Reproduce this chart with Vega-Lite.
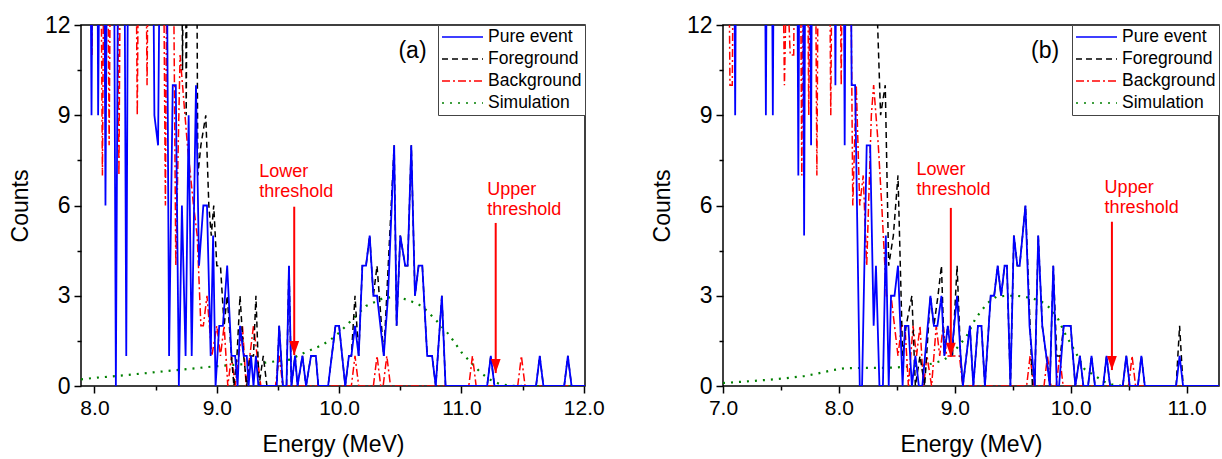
{
"$schema": "https://vega.github.io/schema/vega-lite/v6.json",
"padding": {"left": 8, "top": 13, "right": 2, "bottom": 2},
"config": {
  "font": "Liberation Sans",
  "view": {"stroke": "#000", "strokeWidth": 1.5},
  "axis": {"labelFontSize": 21, "titleFontSize": 23, "titleFontWeight": "normal", "labelColor": "#000", "titleColor": "#000", "tickColor": "#000", "domain": false, "grid": false, "tickWidth": 1.5, "labelFont": "Liberation Sans", "titleFont": "Liberation Sans"},
  "legend": {"title": null, "orient": "top-right", "offset": 0, "padding": 3, "strokeColor": "#444", "fillColor": "#fff", "labelFontSize": 17.5, "labelColor": "#000", "symbolType": "stroke", "symbolSize": 1681, "symbolStrokeWidth": 1.5, "clipHeight": 18, "rowPadding": 4, "labelOffset": 4, "cornerRadius": 0},
  "concat": {"spacing": 45}
},
"resolve": {"legend": {"color": "independent", "strokeDash": "independent"}},
"datasets": {
"a": [
{"s":"Pure event","x":7.89,"y":20},{"s":"Pure event","x":7.96,"y":20},{"s":"Pure event","x":7.976,"y":9},{"s":"Pure event","x":7.99,"y":20},{"s":"Pure event","x":8.02,"y":20},{"s":"Pure event","x":8.03,"y":9},{"s":"Pure event","x":8.05,"y":20},{"s":"Pure event","x":8.075,"y":20},{"s":"Pure event","x":8.09,"y":6},{"s":"Pure event","x":8.11,"y":20},{"s":"Pure event","x":8.155,"y":20},{"s":"Pure event","x":8.175,"y":0},{"s":"Pure event","x":8.2,"y":20},{"s":"Pure event","x":8.24,"y":20},{"s":"Pure event","x":8.26,"y":1},{"s":"Pure event","x":8.28,"y":20},{"s":"Pure event","x":8.47,"y":20},{"s":"Pure event","x":8.49,"y":9},{"s":"Pure event","x":8.52,"y":8},{"s":"Pure event","x":8.545,"y":20},{"s":"Pure event","x":8.585,"y":20},{"s":"Pure event","x":8.61,"y":1},{"s":"Pure event","x":8.64,"y":10},{"s":"Pure event","x":8.665,"y":10},{"s":"Pure event","x":8.69,"y":0},{"s":"Pure event","x":8.715,"y":6},{"s":"Pure event","x":8.745,"y":1},{"s":"Pure event","x":8.77,"y":9},{"s":"Pure event","x":8.795,"y":1},{"s":"Pure event","x":8.83,"y":10},{"s":"Pure event","x":8.855,"y":4},{"s":"Pure event","x":8.89,"y":6},{"s":"Pure event","x":8.92,"y":6},{"s":"Pure event","x":8.95,"y":1},{"s":"Pure event","x":8.97,"y":5},{"s":"Pure event","x":8.99,"y":0},{"s":"Pure event","x":9.02,"y":2},{"s":"Pure event","x":9.05,"y":2},{"s":"Pure event","x":9.085,"y":4},{"s":"Pure event","x":9.12,"y":1},{"s":"Pure event","x":9.15,"y":1},{"s":"Pure event","x":9.17,"y":0},{"s":"Pure event","x":9.19,"y":2},{"s":"Pure event","x":9.22,"y":1},{"s":"Pure event","x":9.245,"y":1},{"s":"Pure event","x":9.26,"y":0},{"s":"Pure event","x":9.28,"y":1},{"s":"Pure event","x":9.3,"y":0},{"s":"Pure event","x":9.32,"y":1},{"s":"Pure event","x":9.34,"y":0},{"s":"Pure event","x":9.49,"y":0},{"s":"Pure event","x":9.51,"y":2},{"s":"Pure event","x":9.54,"y":0},{"s":"Pure event","x":9.57,"y":0},{"s":"Pure event","x":9.59,"y":4},{"s":"Pure event","x":9.61,"y":0},{"s":"Pure event","x":9.64,"y":1},{"s":"Pure event","x":9.66,"y":0},{"s":"Pure event","x":9.7,"y":1},{"s":"Pure event","x":9.73,"y":0},{"s":"Pure event","x":9.77,"y":1},{"s":"Pure event","x":9.81,"y":1},{"s":"Pure event","x":9.83,"y":0},{"s":"Pure event","x":9.91,"y":0},{"s":"Pure event","x":9.94,"y":1},{"s":"Pure event","x":9.97,"y":2},{"s":"Pure event","x":10.0,"y":2},{"s":"Pure event","x":10.05,"y":0},{"s":"Pure event","x":10.08,"y":1},{"s":"Pure event","x":10.1,"y":1},{"s":"Pure event","x":10.13,"y":2},{"s":"Pure event","x":10.16,"y":1},{"s":"Pure event","x":10.19,"y":4},{"s":"Pure event","x":10.22,"y":4},{"s":"Pure event","x":10.25,"y":5},{"s":"Pure event","x":10.28,"y":3},{"s":"Pure event","x":10.31,"y":3},{"s":"Pure event","x":10.365,"y":1},{"s":"Pure event","x":10.4,"y":3},{"s":"Pure event","x":10.45,"y":8},{"s":"Pure event","x":10.47,"y":2},{"s":"Pure event","x":10.5,"y":5},{"s":"Pure event","x":10.54,"y":4},{"s":"Pure event","x":10.56,"y":4},{"s":"Pure event","x":10.59,"y":8},{"s":"Pure event","x":10.62,"y":3},{"s":"Pure event","x":10.65,"y":4},{"s":"Pure event","x":10.68,"y":4},{"s":"Pure event","x":10.72,"y":1},{"s":"Pure event","x":10.76,"y":1},{"s":"Pure event","x":10.79,"y":0},{"s":"Pure event","x":10.84,"y":3},{"s":"Pure event","x":10.87,"y":0},{"s":"Pure event","x":11.21,"y":0},{"s":"Pure event","x":11.24,"y":1},{"s":"Pure event","x":11.27,"y":0},{"s":"Pure event","x":11.61,"y":0},{"s":"Pure event","x":11.64,"y":1},{"s":"Pure event","x":11.67,"y":0},{"s":"Pure event","x":11.84,"y":0},{"s":"Pure event","x":11.87,"y":1},{"s":"Pure event","x":11.9,"y":0},{"s":"Pure event","x":12.01,"y":0},
{"s":"Foreground","x":7.89,"y":20},{"s":"Foreground","x":8.705,"y":20},{"s":"Foreground","x":8.72,"y":10.5},{"s":"Foreground","x":8.735,"y":20},{"s":"Foreground","x":8.74,"y":20},{"s":"Foreground","x":8.75,"y":9},{"s":"Foreground","x":8.765,"y":20},{"s":"Foreground","x":8.83,"y":20},{"s":"Foreground","x":8.845,"y":7},{"s":"Foreground","x":8.87,"y":8},{"s":"Foreground","x":8.91,"y":9},{"s":"Foreground","x":8.935,"y":6},{"s":"Foreground","x":8.955,"y":5},{"s":"Foreground","x":8.975,"y":6},{"s":"Foreground","x":9.0,"y":4},{"s":"Foreground","x":9.03,"y":4},{"s":"Foreground","x":9.06,"y":2},{"s":"Foreground","x":9.085,"y":3},{"s":"Foreground","x":9.12,"y":1},{"s":"Foreground","x":9.14,"y":0},{"s":"Foreground","x":9.165,"y":1},{"s":"Foreground","x":9.19,"y":3},{"s":"Foreground","x":9.22,"y":1},{"s":"Foreground","x":9.245,"y":0},{"s":"Foreground","x":9.27,"y":1},{"s":"Foreground","x":9.3,"y":1},{"s":"Foreground","x":9.32,"y":3},{"s":"Foreground","x":9.345,"y":0},{"s":"Foreground","x":9.38,"y":1},{"s":"Foreground","x":9.41,"y":0},{"s":"Foreground","x":9.49,"y":0},{"s":"Foreground","x":9.51,"y":2},{"s":"Foreground","x":9.54,"y":0},{"s":"Foreground","x":9.57,"y":0},{"s":"Foreground","x":9.59,"y":4},{"s":"Foreground","x":9.61,"y":0},{"s":"Foreground","x":9.64,"y":1},{"s":"Foreground","x":9.66,"y":0},{"s":"Foreground","x":9.7,"y":1},{"s":"Foreground","x":9.73,"y":0},{"s":"Foreground","x":9.77,"y":1},{"s":"Foreground","x":9.81,"y":1},{"s":"Foreground","x":9.83,"y":0},{"s":"Foreground","x":9.91,"y":0},{"s":"Foreground","x":9.94,"y":1},{"s":"Foreground","x":9.97,"y":2},{"s":"Foreground","x":10.0,"y":2},{"s":"Foreground","x":10.05,"y":0},{"s":"Foreground","x":10.08,"y":1},{"s":"Foreground","x":10.1,"y":1},{"s":"Foreground","x":10.13,"y":3},{"s":"Foreground","x":10.16,"y":1},{"s":"Foreground","x":10.19,"y":4},{"s":"Foreground","x":10.22,"y":4},{"s":"Foreground","x":10.25,"y":5},{"s":"Foreground","x":10.28,"y":3},{"s":"Foreground","x":10.31,"y":4},{"s":"Foreground","x":10.365,"y":1},{"s":"Foreground","x":10.45,"y":8},{"s":"Foreground","x":10.47,"y":2},{"s":"Foreground","x":10.5,"y":5},{"s":"Foreground","x":10.54,"y":4},{"s":"Foreground","x":10.56,"y":4},{"s":"Foreground","x":10.59,"y":8},{"s":"Foreground","x":10.62,"y":3},{"s":"Foreground","x":10.65,"y":4},{"s":"Foreground","x":10.68,"y":4},{"s":"Foreground","x":10.72,"y":1},{"s":"Foreground","x":10.76,"y":1},{"s":"Foreground","x":10.79,"y":0},{"s":"Foreground","x":10.84,"y":3},{"s":"Foreground","x":10.87,"y":0},{"s":"Foreground","x":11.21,"y":0},{"s":"Foreground","x":11.24,"y":1},{"s":"Foreground","x":11.27,"y":0},{"s":"Foreground","x":11.61,"y":0},{"s":"Foreground","x":11.64,"y":1},{"s":"Foreground","x":11.67,"y":0},{"s":"Foreground","x":11.84,"y":0},{"s":"Foreground","x":11.87,"y":1},{"s":"Foreground","x":11.9,"y":0},{"s":"Foreground","x":12.01,"y":0},
{"s":"Background","x":7.89,"y":20},{"s":"Background","x":7.96,"y":20},{"s":"Background","x":7.98,"y":11},{"s":"Background","x":8.0,"y":20},{"s":"Background","x":8.045,"y":20},{"s":"Background","x":8.065,"y":7},{"s":"Background","x":8.085,"y":20},{"s":"Background","x":8.1,"y":20},{"s":"Background","x":8.12,"y":8},{"s":"Background","x":8.14,"y":20},{"s":"Background","x":8.18,"y":20},{"s":"Background","x":8.2,"y":7},{"s":"Background","x":8.22,"y":20},{"s":"Background","x":8.33,"y":20},{"s":"Background","x":8.35,"y":9},{"s":"Background","x":8.37,"y":20},{"s":"Background","x":8.41,"y":20},{"s":"Background","x":8.43,"y":10},{"s":"Background","x":8.45,"y":20},{"s":"Background","x":8.555,"y":20},{"s":"Background","x":8.58,"y":6},{"s":"Background","x":8.6,"y":20},{"s":"Background","x":8.635,"y":20},{"s":"Background","x":8.665,"y":4},{"s":"Background","x":8.7,"y":11},{"s":"Background","x":8.72,"y":10},{"s":"Background","x":8.76,"y":8},{"s":"Background","x":8.81,"y":6},{"s":"Background","x":8.84,"y":5},{"s":"Background","x":8.87,"y":2},{"s":"Background","x":8.89,"y":2},{"s":"Background","x":8.92,"y":3},{"s":"Background","x":8.96,"y":1},{"s":"Background","x":9.0,"y":2},{"s":"Background","x":9.03,"y":1},{"s":"Background","x":9.06,"y":2},{"s":"Background","x":9.09,"y":0},{"s":"Background","x":9.12,"y":1},{"s":"Background","x":9.15,"y":0},{"s":"Background","x":9.18,"y":1},{"s":"Background","x":9.21,"y":2},{"s":"Background","x":9.24,"y":0},{"s":"Background","x":9.27,"y":1},{"s":"Background","x":9.3,"y":2},{"s":"Background","x":9.33,"y":1},{"s":"Background","x":9.36,"y":0},{"s":"Background","x":9.48,"y":0},{"s":"Background","x":9.51,"y":1},{"s":"Background","x":9.54,"y":0},{"s":"Background","x":10.1,"y":0},{"s":"Background","x":10.13,"y":1},{"s":"Background","x":10.16,"y":0},{"s":"Background","x":10.28,"y":0},{"s":"Background","x":10.31,"y":1},{"s":"Background","x":10.34,"y":0},{"s":"Background","x":10.36,"y":0},{"s":"Background","x":10.39,"y":1},{"s":"Background","x":10.42,"y":0},{"s":"Background","x":11.06,"y":0},{"s":"Background","x":11.09,"y":1},{"s":"Background","x":11.12,"y":0},{"s":"Background","x":11.46,"y":0},{"s":"Background","x":11.49,"y":1},{"s":"Background","x":11.52,"y":0},{"s":"Background","x":12.01,"y":0},
{"s":"Simulation","x":7.89,"y":0.22},{"s":"Simulation","x":8.0,"y":0.27},{"s":"Simulation","x":8.2,"y":0.34},{"s":"Simulation","x":8.4,"y":0.42},{"s":"Simulation","x":8.6,"y":0.5},{"s":"Simulation","x":8.8,"y":0.58},{"s":"Simulation","x":9.0,"y":0.66},{"s":"Simulation","x":9.2,"y":0.72},{"s":"Simulation","x":9.4,"y":0.78},{"s":"Simulation","x":9.6,"y":0.88},{"s":"Simulation","x":9.7,"y":1.08},{"s":"Simulation","x":9.8,"y":1.25},{"s":"Simulation","x":9.87,"y":1.38},{"s":"Simulation","x":9.94,"y":1.57},{"s":"Simulation","x":10.0,"y":1.77},{"s":"Simulation","x":10.12,"y":2.26},{"s":"Simulation","x":10.22,"y":2.66},{"s":"Simulation","x":10.36,"y":2.92},{"s":"Simulation","x":10.47,"y":2.97},{"s":"Simulation","x":10.57,"y":2.85},{"s":"Simulation","x":10.68,"y":2.65},{"s":"Simulation","x":10.79,"y":2.2},{"s":"Simulation","x":10.9,"y":1.7},{"s":"Simulation","x":11.0,"y":1.12},{"s":"Simulation","x":11.06,"y":0.86},{"s":"Simulation","x":11.11,"y":0.64},{"s":"Simulation","x":11.17,"y":0.4},{"s":"Simulation","x":11.24,"y":0.2},{"s":"Simulation","x":11.31,"y":0.07},{"s":"Simulation","x":11.4,"y":0.01},{"s":"Simulation","x":11.5,"y":0},{"s":"Simulation","x":12.01,"y":0}
],
"b": [
{"s":"Pure event","x":7.0,"y":20},{"s":"Pure event","x":7.09,"y":20},{"s":"Pure event","x":7.105,"y":9},{"s":"Pure event","x":7.12,"y":20},{"s":"Pure event","x":7.355,"y":20},{"s":"Pure event","x":7.37,"y":9},{"s":"Pure event","x":7.385,"y":20},{"s":"Pure event","x":7.415,"y":20},{"s":"Pure event","x":7.43,"y":9},{"s":"Pure event","x":7.445,"y":20},{"s":"Pure event","x":7.635,"y":20},{"s":"Pure event","x":7.65,"y":7},{"s":"Pure event","x":7.665,"y":20},{"s":"Pure event","x":7.685,"y":20},{"s":"Pure event","x":7.70,"y":5},{"s":"Pure event","x":7.715,"y":20},{"s":"Pure event","x":7.745,"y":20},{"s":"Pure event","x":7.76,"y":8},{"s":"Pure event","x":7.775,"y":20},{"s":"Pure event","x":7.955,"y":20},{"s":"Pure event","x":7.97,"y":10},{"s":"Pure event","x":7.985,"y":20},{"s":"Pure event","x":8.035,"y":20},{"s":"Pure event","x":8.05,"y":8},{"s":"Pure event","x":8.065,"y":20},{"s":"Pure event","x":8.095,"y":20},{"s":"Pure event","x":8.11,"y":10},{"s":"Pure event","x":8.14,"y":10},{"s":"Pure event","x":8.18,"y":0},{"s":"Pure event","x":8.2,"y":0},{"s":"Pure event","x":8.24,"y":8},{"s":"Pure event","x":8.27,"y":8},{"s":"Pure event","x":8.3,"y":2},{"s":"Pure event","x":8.32,"y":4},{"s":"Pure event","x":8.35,"y":0},{"s":"Pure event","x":8.38,"y":0},{"s":"Pure event","x":8.405,"y":5},{"s":"Pure event","x":8.43,"y":0},{"s":"Pure event","x":8.45,"y":3},{"s":"Pure event","x":8.48,"y":3},{"s":"Pure event","x":8.51,"y":4},{"s":"Pure event","x":8.55,"y":0},{"s":"Pure event","x":8.57,"y":2},{"s":"Pure event","x":8.6,"y":2},{"s":"Pure event","x":8.63,"y":0},{"s":"Pure event","x":8.66,"y":1},{"s":"Pure event","x":8.69,"y":0},{"s":"Pure event","x":8.72,"y":0},{"s":"Pure event","x":8.79,"y":3},{"s":"Pure event","x":8.82,"y":2},{"s":"Pure event","x":8.85,"y":2},{"s":"Pure event","x":8.885,"y":3},{"s":"Pure event","x":8.91,"y":1},{"s":"Pure event","x":8.94,"y":2},{"s":"Pure event","x":8.97,"y":1},{"s":"Pure event","x":9.02,"y":3},{"s":"Pure event","x":9.05,"y":1},{"s":"Pure event","x":9.07,"y":0},{"s":"Pure event","x":9.1,"y":1},{"s":"Pure event","x":9.13,"y":2},{"s":"Pure event","x":9.16,"y":0},{"s":"Pure event","x":9.2,"y":2},{"s":"Pure event","x":9.23,"y":2},{"s":"Pure event","x":9.26,"y":0},{"s":"Pure event","x":9.31,"y":3},{"s":"Pure event","x":9.34,"y":3},{"s":"Pure event","x":9.37,"y":4},{"s":"Pure event","x":9.4,"y":3},{"s":"Pure event","x":9.43,"y":4},{"s":"Pure event","x":9.45,"y":4},{"s":"Pure event","x":9.48,"y":0},{"s":"Pure event","x":9.51,"y":5},{"s":"Pure event","x":9.54,"y":4},{"s":"Pure event","x":9.56,"y":4},{"s":"Pure event","x":9.61,"y":6},{"s":"Pure event","x":9.645,"y":2},{"s":"Pure event","x":9.69,"y":0},{"s":"Pure event","x":9.72,"y":5},{"s":"Pure event","x":9.755,"y":2},{"s":"Pure event","x":9.79,"y":1},{"s":"Pure event","x":9.82,"y":0},{"s":"Pure event","x":9.85,"y":4},{"s":"Pure event","x":9.88,"y":0},{"s":"Pure event","x":9.9,"y":0},{"s":"Pure event","x":9.94,"y":2},{"s":"Pure event","x":10.0,"y":2},{"s":"Pure event","x":10.04,"y":0},{"s":"Pure event","x":10.08,"y":1},{"s":"Pure event","x":10.11,"y":0},{"s":"Pure event","x":10.15,"y":0},{"s":"Pure event","x":10.18,"y":1},{"s":"Pure event","x":10.21,"y":0},{"s":"Pure event","x":10.28,"y":0},{"s":"Pure event","x":10.31,"y":1},{"s":"Pure event","x":10.34,"y":0},{"s":"Pure event","x":10.45,"y":0},{"s":"Pure event","x":10.48,"y":1},{"s":"Pure event","x":10.51,"y":0},{"s":"Pure event","x":10.58,"y":0},{"s":"Pure event","x":10.61,"y":1},{"s":"Pure event","x":10.64,"y":0},{"s":"Pure event","x":10.91,"y":0},{"s":"Pure event","x":10.94,"y":1},{"s":"Pure event","x":10.97,"y":0},{"s":"Pure event","x":11.28,"y":0},
{"s":"Foreground","x":7.0,"y":20},{"s":"Foreground","x":8.31,"y":20},{"s":"Foreground","x":8.33,"y":12.5},{"s":"Foreground","x":8.36,"y":9},{"s":"Foreground","x":8.4,"y":10},{"s":"Foreground","x":8.43,"y":4},{"s":"Foreground","x":8.47,"y":5},{"s":"Foreground","x":8.51,"y":7},{"s":"Foreground","x":8.55,"y":1},{"s":"Foreground","x":8.58,"y":2},{"s":"Foreground","x":8.63,"y":3},{"s":"Foreground","x":8.66,"y":0},{"s":"Foreground","x":8.7,"y":1},{"s":"Foreground","x":8.74,"y":0},{"s":"Foreground","x":8.79,"y":3},{"s":"Foreground","x":8.82,"y":2},{"s":"Foreground","x":8.855,"y":3},{"s":"Foreground","x":8.885,"y":4},{"s":"Foreground","x":8.91,"y":1},{"s":"Foreground","x":8.94,"y":2},{"s":"Foreground","x":8.98,"y":1},{"s":"Foreground","x":9.02,"y":4},{"s":"Foreground","x":9.05,"y":1},{"s":"Foreground","x":9.07,"y":0},{"s":"Foreground","x":9.1,"y":1},{"s":"Foreground","x":9.13,"y":2},{"s":"Foreground","x":9.16,"y":0},{"s":"Foreground","x":9.2,"y":2},{"s":"Foreground","x":9.23,"y":2},{"s":"Foreground","x":9.26,"y":0},{"s":"Foreground","x":9.31,"y":3},{"s":"Foreground","x":9.34,"y":3},{"s":"Foreground","x":9.37,"y":4},{"s":"Foreground","x":9.4,"y":3},{"s":"Foreground","x":9.43,"y":4},{"s":"Foreground","x":9.45,"y":4},{"s":"Foreground","x":9.48,"y":0},{"s":"Foreground","x":9.51,"y":5},{"s":"Foreground","x":9.54,"y":4},{"s":"Foreground","x":9.56,"y":4},{"s":"Foreground","x":9.61,"y":6},{"s":"Foreground","x":9.67,"y":0},{"s":"Foreground","x":9.69,"y":0},{"s":"Foreground","x":9.72,"y":5},{"s":"Foreground","x":9.755,"y":2},{"s":"Foreground","x":9.79,"y":1},{"s":"Foreground","x":9.82,"y":0},{"s":"Foreground","x":9.85,"y":4},{"s":"Foreground","x":9.88,"y":1},{"s":"Foreground","x":9.91,"y":1},{"s":"Foreground","x":9.94,"y":2},{"s":"Foreground","x":10.0,"y":2},{"s":"Foreground","x":10.04,"y":0},{"s":"Foreground","x":10.08,"y":1},{"s":"Foreground","x":10.11,"y":0},{"s":"Foreground","x":10.15,"y":0},{"s":"Foreground","x":10.18,"y":1},{"s":"Foreground","x":10.21,"y":0},{"s":"Foreground","x":10.28,"y":0},{"s":"Foreground","x":10.31,"y":1},{"s":"Foreground","x":10.34,"y":0},{"s":"Foreground","x":10.45,"y":0},{"s":"Foreground","x":10.48,"y":1},{"s":"Foreground","x":10.51,"y":0},{"s":"Foreground","x":10.58,"y":0},{"s":"Foreground","x":10.61,"y":1},{"s":"Foreground","x":10.64,"y":0},{"s":"Foreground","x":10.91,"y":0},{"s":"Foreground","x":10.94,"y":2},{"s":"Foreground","x":10.97,"y":0},{"s":"Foreground","x":11.28,"y":0},
{"s":"Background","x":7.0,"y":20},{"s":"Background","x":7.04,"y":20},{"s":"Background","x":7.06,"y":10},{"s":"Background","x":7.08,"y":10},{"s":"Background","x":7.1,"y":20},{"s":"Background","x":7.5,"y":20},{"s":"Background","x":7.53,"y":10},{"s":"Background","x":7.55,"y":14},{"s":"Background","x":7.58,"y":11},{"s":"Background","x":7.61,"y":11},{"s":"Background","x":7.63,"y":20},{"s":"Background","x":7.66,"y":20},{"s":"Background","x":7.68,"y":7},{"s":"Background","x":7.7,"y":20},{"s":"Background","x":7.72,"y":20},{"s":"Background","x":7.74,"y":9},{"s":"Background","x":7.76,"y":20},{"s":"Background","x":7.79,"y":20},{"s":"Background","x":7.81,"y":7},{"s":"Background","x":7.83,"y":20},{"s":"Background","x":7.91,"y":20},{"s":"Background","x":7.93,"y":9},{"s":"Background","x":7.95,"y":20},{"s":"Background","x":8.0,"y":20},{"s":"Background","x":8.02,"y":10},{"s":"Background","x":8.04,"y":20},{"s":"Background","x":8.09,"y":20},{"s":"Background","x":8.12,"y":6},{"s":"Background","x":8.15,"y":10},{"s":"Background","x":8.18,"y":6},{"s":"Background","x":8.21,"y":7},{"s":"Background","x":8.24,"y":4},{"s":"Background","x":8.28,"y":9},{"s":"Background","x":8.3,"y":10},{"s":"Background","x":8.34,"y":8},{"s":"Background","x":8.37,"y":6},{"s":"Background","x":8.41,"y":3},{"s":"Background","x":8.45,"y":3},{"s":"Background","x":8.48,"y":2},{"s":"Background","x":8.51,"y":1},{"s":"Background","x":8.54,"y":2},{"s":"Background","x":8.57,"y":2},{"s":"Background","x":8.6,"y":0},{"s":"Background","x":8.64,"y":2},{"s":"Background","x":8.67,"y":1},{"s":"Background","x":8.7,"y":2},{"s":"Background","x":8.73,"y":0},{"s":"Background","x":8.76,"y":1},{"s":"Background","x":8.8,"y":0},{"s":"Background","x":8.84,"y":2},{"s":"Background","x":8.87,"y":1},{"s":"Background","x":8.9,"y":2},{"s":"Background","x":8.93,"y":1},{"s":"Background","x":8.96,"y":1},{"s":"Background","x":9.0,"y":1},{"s":"Background","x":9.04,"y":1},{"s":"Background","x":9.07,"y":0},{"s":"Background","x":9.62,"y":0},{"s":"Background","x":9.65,"y":1},{"s":"Background","x":9.68,"y":0},{"s":"Background","x":9.77,"y":0},{"s":"Background","x":9.8,"y":1},{"s":"Background","x":9.83,"y":0},{"s":"Background","x":9.875,"y":0},{"s":"Background","x":9.905,"y":1},{"s":"Background","x":9.935,"y":0},{"s":"Background","x":10.5,"y":0},{"s":"Background","x":10.53,"y":1},{"s":"Background","x":10.56,"y":0},{"s":"Background","x":11.28,"y":0},
{"s":"Simulation","x":7.0,"y":0.1},{"s":"Simulation","x":7.2,"y":0.15},{"s":"Simulation","x":7.4,"y":0.21},{"s":"Simulation","x":7.55,"y":0.26},{"s":"Simulation","x":7.7,"y":0.33},{"s":"Simulation","x":7.8,"y":0.4},{"s":"Simulation","x":7.95,"y":0.53},{"s":"Simulation","x":8.05,"y":0.59},{"s":"Simulation","x":8.2,"y":0.6},{"s":"Simulation","x":8.4,"y":0.6},{"s":"Simulation","x":8.55,"y":0.63},{"s":"Simulation","x":8.7,"y":0.68},{"s":"Simulation","x":8.8,"y":0.74},{"s":"Simulation","x":8.9,"y":0.85},{"s":"Simulation","x":8.97,"y":1.05},{"s":"Simulation","x":9.04,"y":1.36},{"s":"Simulation","x":9.1,"y":1.64},{"s":"Simulation","x":9.18,"y":2.25},{"s":"Simulation","x":9.28,"y":2.75},{"s":"Simulation","x":9.36,"y":2.97},{"s":"Simulation","x":9.45,"y":3.0},{"s":"Simulation","x":9.53,"y":3.0},{"s":"Simulation","x":9.6,"y":2.97},{"s":"Simulation","x":9.68,"y":2.9},{"s":"Simulation","x":9.75,"y":2.8},{"s":"Simulation","x":9.82,"y":2.6},{"s":"Simulation","x":9.88,"y":2.32},{"s":"Simulation","x":9.95,"y":1.75},{"s":"Simulation","x":10.04,"y":1.14},{"s":"Simulation","x":10.12,"y":0.56},{"s":"Simulation","x":10.2,"y":0.36},{"s":"Simulation","x":10.29,"y":0.14},{"s":"Simulation","x":10.38,"y":0.02},{"s":"Simulation","x":10.5,"y":0},{"s":"Simulation","x":11.28,"y":0}
],
"arrA": [{"x":9.633,"top":5.96,"tip":1.03},{"x":11.28,"top":5.42,"tip":0.43}],
"txtA": [{"x":9.347,"y":6.95,"t":["Lower","threshold"]},{"x":11.21,"y":6.35,"t":["Upper","threshold"]}],
"labA": [{"x":10.6,"y":10.9,"t":"(a)"}],
"arrB": [{"x":8.966,"top":5.92,"tip":0.97},{"x":10.356,"top":5.46,"tip":0.53}],
"txtB": [{"x":8.67,"y":7.01,"t":["Lower","threshold"]},{"x":10.293,"y":6.4,"t":["Upper","threshold"]}],
"labB": [{"x":9.78,"y":10.9,"t":"(b)"}]
},
"hconcat": [
{
  "width": 504, "height": 361,
  "encoding": {
    "x": {"field": "x", "type": "quantitative", "scale": {"domain": [7.89, 12.01], "nice": false, "zero": false},
          "axis": {"title": "Energy (MeV)", "values": [8, 8.5, 9, 9.5, 10, 10.5, 11, 11.5, 12], "labelExpr": "datum.value % 1 === 0 ? format(datum.value, '.1f') : ''", "tickSize": {"condition": {"test": "datum.value % 1 === 0", "value": 7}, "value": 4}, "labelPadding": 4, "titlePadding": 15, "labelFlush": false, "labelOverlap": false}},
    "y": {"field": "y", "type": "quantitative", "scale": {"domain": [0, 12], "nice": false},
          "axis": {"title": "Counts", "values": [0, 1.5, 3, 4.5, 6, 7.5, 9, 10.5, 12], "labelExpr": "datum.value % 3 === 0 ? datum.value : ''", "labelFontSize": 23, "tickSize": {"condition": {"test": "datum.value % 3 === 0", "value": 7}, "value": 4}, "labelPadding": 4, "titlePadding": 12, "labelFlush": false, "labelOverlap": false}}
  },
  "layer": [
    {"data": {"name": "a"}, "transform": [{"filter": "datum.s === 'Simulation'"}], "mark": {"type": "line", "clip": true, "strokeWidth": 2.2},
     "encoding": {"color": {"field": "s", "type": "nominal", "scale": {"domain": ["Pure event", "Foreground", "Background", "Simulation"], "range": ["#0000ff", "#000000", "#ff0000", "#008000"]}, "legend": {}},
                  "strokeDash": {"field": "s", "type": "nominal", "scale": {"domain": ["Pure event", "Foreground", "Background", "Simulation"], "range": [[1, 0], [6, 4], [8, 3, 2, 3], [2, 6]]}, "legend": {}}}},
    {"data": {"name": "a"}, "transform": [{"filter": "datum.s === 'Background'"}], "mark": {"type": "line", "clip": true, "strokeWidth": 1.5},
     "encoding": {"color": {"field": "s", "type": "nominal"}, "strokeDash": {"field": "s", "type": "nominal"}}},
    {"data": {"name": "a"}, "transform": [{"filter": "datum.s === 'Foreground'"}], "mark": {"type": "line", "clip": true, "strokeWidth": 1.5},
     "encoding": {"color": {"field": "s", "type": "nominal"}, "strokeDash": {"field": "s", "type": "nominal"}}},
    {"data": {"name": "a"}, "transform": [{"filter": "datum.s === 'Pure event'"}], "mark": {"type": "line", "clip": true, "strokeWidth": 1.8},
     "encoding": {"color": {"field": "s", "type": "nominal"}, "strokeDash": {"field": "s", "type": "nominal"}}},
    {"data": {"name": "arrA"}, "mark": {"type": "rule", "color": "#ff0000", "strokeWidth": 2},
     "encoding": {"y": {"field": "top", "type": "quantitative"}, "y2": {"field": "tip"}}},
    {"data": {"name": "arrA"}, "mark": {"type": "point", "shape": "M-0.7,-2L0.7,-2L0,0Z", "filled": true, "color": "#ff0000", "opacity": 1, "size": 196},
     "encoding": {"y": {"field": "tip", "type": "quantitative"}}},
    {"data": {"name": "txtA"}, "mark": {"type": "text", "align": "left", "baseline": "alphabetic", "fontSize": 18, "color": "#ff0000", "lineHeight": 20},
     "encoding": {"text": {"field": "t"}}},
    {"data": {"name": "labA"}, "mark": {"type": "text", "align": "center", "baseline": "alphabetic", "fontSize": 23, "color": "#000"},
     "encoding": {"text": {"field": "t"}}}
  ]
},
{
  "width": 496, "height": 361,
  "encoding": {
    "x": {"field": "x", "type": "quantitative", "scale": {"domain": [7.0, 11.28], "nice": false, "zero": false},
          "axis": {"title": "Energy (MeV)", "values": [7, 7.5, 8, 8.5, 9, 9.5, 10, 10.5, 11], "labelExpr": "datum.value % 1 === 0 ? format(datum.value, '.1f') : ''", "tickSize": {"condition": {"test": "datum.value % 1 === 0", "value": 7}, "value": 4}, "labelPadding": 4, "titlePadding": 15, "labelFlush": false, "labelOverlap": false}},
    "y": {"field": "y", "type": "quantitative", "scale": {"domain": [0, 12], "nice": false},
          "axis": {"title": "Counts", "values": [0, 1.5, 3, 4.5, 6, 7.5, 9, 10.5, 12], "labelExpr": "datum.value % 3 === 0 ? datum.value : ''", "labelFontSize": 23, "tickSize": {"condition": {"test": "datum.value % 3 === 0", "value": 7}, "value": 4}, "labelPadding": 4, "titlePadding": 12, "labelFlush": false, "labelOverlap": false}}
  },
  "layer": [
    {"data": {"name": "b"}, "transform": [{"filter": "datum.s === 'Simulation'"}], "mark": {"type": "line", "clip": true, "strokeWidth": 2.2},
     "encoding": {"color": {"field": "s", "type": "nominal", "scale": {"domain": ["Pure event", "Foreground", "Background", "Simulation"], "range": ["#0000ff", "#000000", "#ff0000", "#008000"]}, "legend": {}},
                  "strokeDash": {"field": "s", "type": "nominal", "scale": {"domain": ["Pure event", "Foreground", "Background", "Simulation"], "range": [[1, 0], [6, 4], [8, 3, 2, 3], [2, 6]]}, "legend": {}}}},
    {"data": {"name": "b"}, "transform": [{"filter": "datum.s === 'Background'"}], "mark": {"type": "line", "clip": true, "strokeWidth": 1.5},
     "encoding": {"color": {"field": "s", "type": "nominal"}, "strokeDash": {"field": "s", "type": "nominal"}}},
    {"data": {"name": "b"}, "transform": [{"filter": "datum.s === 'Foreground'"}], "mark": {"type": "line", "clip": true, "strokeWidth": 1.5},
     "encoding": {"color": {"field": "s", "type": "nominal"}, "strokeDash": {"field": "s", "type": "nominal"}}},
    {"data": {"name": "b"}, "transform": [{"filter": "datum.s === 'Pure event'"}], "mark": {"type": "line", "clip": true, "strokeWidth": 1.8},
     "encoding": {"color": {"field": "s", "type": "nominal"}, "strokeDash": {"field": "s", "type": "nominal"}}},
    {"data": {"name": "arrB"}, "mark": {"type": "rule", "color": "#ff0000", "strokeWidth": 2},
     "encoding": {"y": {"field": "top", "type": "quantitative"}, "y2": {"field": "tip"}}},
    {"data": {"name": "arrB"}, "mark": {"type": "point", "shape": "M-0.7,-2L0.7,-2L0,0Z", "filled": true, "color": "#ff0000", "opacity": 1, "size": 196},
     "encoding": {"y": {"field": "tip", "type": "quantitative"}}},
    {"data": {"name": "txtB"}, "mark": {"type": "text", "align": "left", "baseline": "alphabetic", "fontSize": 18, "color": "#ff0000", "lineHeight": 20},
     "encoding": {"text": {"field": "t"}}},
    {"data": {"name": "labB"}, "mark": {"type": "text", "align": "center", "baseline": "alphabetic", "fontSize": 23, "color": "#000"},
     "encoding": {"text": {"field": "t"}}}
  ]
}
]
}
